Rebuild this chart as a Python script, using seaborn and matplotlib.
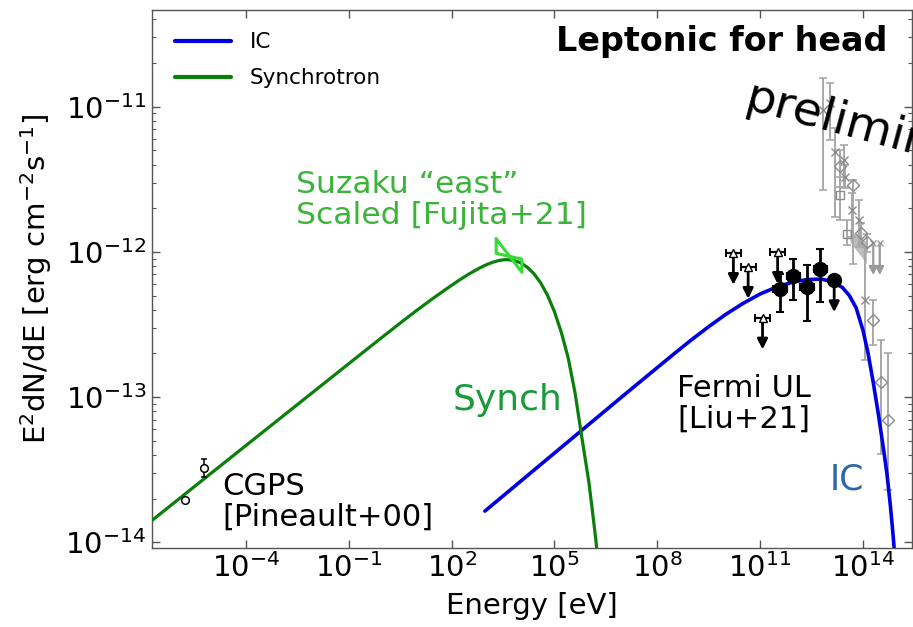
import numpy as np
import pandas as pd
import matplotlib
matplotlib.use("Agg")
import matplotlib.pyplot as plt
import matplotlib.ticker as mticker
import seaborn as sns

# ---------------- data (log10 values) ----------------
sync_logE = [-6.9, -5.0, -3.0, -1.0, 0.0, 0.6, 1.0, 1.4, 1.8, 2.2, 2.5, 2.8, 3.0, 3.2,
             3.4, 3.6, 3.8, 4.0, 4.2, 4.4, 4.6, 4.8, 5.0, 5.2, 5.4, 5.6, 5.8, 6.0, 6.1,
             6.2, 6.3]
sync_logF = [-13.880, -13.522, -13.146, -12.770, -12.583, -12.472, -12.400, -12.330,
             -12.263, -12.198, -12.153, -12.113, -12.090, -12.071, -12.058, -12.053,
             -12.058, -12.074, -12.104, -12.150, -12.214, -12.300, -12.412, -12.554,
             -12.730, -12.970, -13.280, -13.580, -13.770, -13.970, -14.190]

ic_logE = [2.97, 4.0, 5.0, 6.0, 7.0, 8.0, 8.5, 9.0, 9.5, 10.0, 10.5, 11.0, 11.5, 12.0,
           12.4, 12.8, 13.1, 13.4, 13.6, 13.8, 14.0, 14.15, 14.3, 14.45, 14.6, 14.7,
           14.8, 14.87, 14.93, 15.0]
ic_logF = [-13.786, -13.583, -13.386, -13.189, -12.992, -12.797, -12.700, -12.605,
           -12.515, -12.430, -12.355, -12.290, -12.240, -12.205, -12.190, -12.188,
           -12.205, -12.245, -12.300, -12.385, -12.540, -12.700, -12.900, -13.120,
           -13.360, -13.530, -13.750, -13.930, -14.100, -14.300]

cgps_logE = [-5.78, -5.23]
cgps_logF = [-13.71, -13.49]
cgps_lo = [-13.71, -13.55]
cgps_hi = [-13.71, -13.43]

suzaku_logE = [3.30, 4.05, 4.05, 3.30, 3.30]
suzaku_logF = [-11.91, -12.14, -12.05, -12.01, -11.91]

fermi_logE = [11.58, 11.97, 12.37, 12.76]
fermi_logF = [-12.259, -12.168, -12.241, -12.121]
fermi_lo = [-12.414, -12.333, -12.476, -12.345]
fermi_hi = [-12.149, -12.052, -12.092, -11.983]
fermi_lim_logE = [13.16]
fermi_lim_logF = [-12.195]

ul_logE = [10.22, 10.65, 11.07, 11.51]
ul_logF = [-12.007, -12.103, -12.452, -12.0]
ul_arrow = 0.22  # dex length of limit arrows

# grey TeV points
tev_logE = [12.84, 13.05, 13.18, 13.33, 13.44, 13.33, 13.47, 13.70, 13.67, 13.89, 13.52,
            13.93, 14.11, 14.06, 14.30, 14.52, 14.74]
tev_logF = [-11.022, -10.977, -11.31, -11.409, -11.368, -11.609, -11.483, -11.54, -11.712,
            -11.777, -11.874, -11.869, -11.931, -12.328, -12.466, -12.897, -13.161]
tev_lo = [-11.574, -11.23, -11.76, -11.55, -11.552, -11.781, -11.56, -12.08, -11.897,
          -11.966, -11.954, -11.95, -12.0, -12.747, -12.643, -13.39, -13.643]
tev_hi = [-10.804, -10.839, -11.149, -11.30, -11.264, -11.483, -11.40, -11.506, -11.597,
          -11.643, -11.78, -11.80, -11.88, -11.966, -12.333, -12.609, -12.697]
tev_marker = ['x', 'x', 'x', 'D', 'x', 's', 'x', 'D', 'x', 'x', 's', 'D', 'D', 'x', 'D', 'D', 'D']
tev_ul_logE = [14.30, 14.49]
tev_ul_logF = [-11.94, -11.94]
band_logE = [13.62, 14.10]
band_lo = [-11.93, -12.08]
band_hi = [-11.85, -11.93]

xtick_exp = [-4, -1, 2, 5, 8, 11, 14]
ytick_exp = [-14, -13, -12, -11]

# ---------------- figure ----------------
sns.set_style("ticks")
plt.rcParams['font.family'] = ['DejaVu Sans']
plt.rcParams['mathtext.fontset'] = 'dejavusans'
plt.rcParams['text.color'] = 'black'
plt.rcParams['axes.labelcolor'] = 'black'

W, H = 913, 627
fig = plt.figure(figsize=(W / 100, H / 100), dpi=100)
L, R, T, B = 152, 912, 9.5, 548
ax = fig.add_axes([L / W, (H - B) / H, (R - L) / W, (B - T) / H])

def p(v):
    return [10.0 ** x for x in v]

sync_df = pd.DataFrame({'E': p(sync_logE), 'F': p(sync_logF)})
ic_df = pd.DataFrame({'E': p(ic_logE), 'F': p(ic_logF)})

sns.lineplot(data=ic_df, x='E', y='F', ax=ax, color='#0000e0', lw=2.6, sort=False,
             estimator=None, label='IC', zorder=5)
sns.lineplot(data=sync_df, x='E', y='F', ax=ax, color='#0a7f0a', lw=2.3, sort=False,
             estimator=None, label='Synchrotron', zorder=5)

# grey TeV data
grey = '#a8a8a8'
ax.fill_between(p(band_logE), p(band_lo), p(band_hi), color='#bdbdbd', lw=0, zorder=2)
for e, f, lo, hi, m in zip(tev_logE, tev_logF, tev_lo, tev_hi, tev_marker):
    x, y = 10 ** e, 10 ** f
    ax.errorbar([x], [y], yerr=[[y - 10 ** lo], [10 ** hi - y]], fmt=m, color=grey,
                mec='#8a8a8a', mfc='none', ms=6, elinewidth=1.4,
                capsize=3, capthick=1.2, zorder=3)
for e, f in zip(tev_ul_logE, tev_ul_logF):
    ax.annotate('', xy=(10 ** e, 10 ** (f - 0.22)), xytext=(10 ** e, 10 ** f),
                arrowprops=dict(arrowstyle='-|>', color='#9a9a9a', lw=1.6, mutation_scale=12,
                                shrinkA=0, shrinkB=0), zorder=3)
    ax.plot([10 ** e], [10 ** f], marker='x', color='#9a9a9a', ms=5)

# CGPS
cg_x = p(cgps_logE)
cg_y = p(cgps_logF)
ax.errorbar(cg_x, cg_y,
            yerr=[np.array(cg_y) - np.array(p(cgps_lo)), np.array(p(cgps_hi)) - np.array(cg_y)],
            fmt='o', mfc='white', mec='black', color='black', ms=5.5, mew=1.1,
            elinewidth=1.1, capsize=2.5, zorder=6)

# Suzaku bow-tie
ax.plot(p(suzaku_logE), p(suzaku_logF), color='#33dd33', lw=2.2, zorder=7)

# Fermi points
fx = np.array(p(fermi_logE))
fy = np.array(p(fermi_logF))
ax.errorbar(fx, fy, yerr=[fy - np.array(p(fermi_lo)), np.array(p(fermi_hi)) - fy],
            xerr=[fx - np.array(p([v - 0.2 for v in fermi_logE])),
                  np.array(p([v + 0.2 for v in fermi_logE])) - fx],
            fmt='o', color='black', ms=10, elinewidth=2, capsize=3, capthick=1.5, zorder=8)
for e, f in zip(fermi_lim_logE, fermi_lim_logF):
    ax.errorbar([10 ** e], [10 ** f],
                xerr=[[10 ** e - 10 ** (e - 0.2)], [10 ** (e + 0.2) - 10 ** e]],
                fmt='o', color='black', ms=10, elinewidth=2, zorder=8)
    ax.annotate('', xy=(10 ** e, 10 ** (f - ul_arrow)), xytext=(10 ** e, 10 ** f),
                arrowprops=dict(arrowstyle='-|>', color='black', lw=2, mutation_scale=15,
                                shrinkA=0, shrinkB=0), zorder=8)

for e, f in zip(ul_logE, ul_logF):
    ax.errorbar([10 ** e], [10 ** f],
                xerr=[[10 ** e - 10 ** (e - 0.22)], [10 ** (e + 0.22) - 10 ** e]],
                fmt='^', color='black', mfc='white', mec='black', ms=5.5, elinewidth=1.6,
                capsize=3, capthick=1.4, zorder=8)
    ax.annotate('', xy=(10 ** e, 10 ** (f - ul_arrow)), xytext=(10 ** e, 10 ** f),
                arrowprops=dict(arrowstyle='-|>', color='black', lw=2, mutation_scale=15,
                                shrinkA=0, shrinkB=0), zorder=8)

# ---------------- axes ----------------
ax.set_xscale('log')
ax.set_yscale('log')
ax.set_xlim(10 ** -6.74, 10 ** 15.43)
ax.set_ylim(10 ** -14.04, 10 ** -10.33)
ax.xaxis.set_major_locator(mticker.FixedLocator(p(xtick_exp)))
ax.xaxis.set_major_formatter(mticker.LogFormatterMathtext())
ax.xaxis.set_minor_locator(mticker.NullLocator())
ax.yaxis.set_major_locator(mticker.FixedLocator(p(ytick_exp)))
ax.yaxis.set_major_formatter(mticker.LogFormatterMathtext())
ax.yaxis.set_minor_locator(mticker.LogLocator(base=10, subs=np.arange(2, 10), numticks=20))
ax.yaxis.set_minor_formatter(mticker.NullFormatter())
ax.tick_params(which='both', direction='in', top=True, right=True, labelsize=21,
               color='#555555', labelcolor='black')
ax.tick_params(which='major', length=6, width=1)
ax.tick_params(which='minor', length=3, width=0.8)
ax.tick_params(axis='x', pad=4)
ax.tick_params(axis='y', pad=4)
for s in ax.spines.values():
    s.set_color('#555555')
    s.set_linewidth(1.0)

ax.set_xlabel('Energy [eV]', fontsize=21, labelpad=6)
ax.set_ylabel('E$^2$dN/dE [erg cm$^{-2}$s$^{-1}$]', fontsize=21, labelpad=8)

leg = ax.legend(loc='upper left', frameon=False, fontsize=15.5, handlelength=2.6,
                handletextpad=0.9, borderaxespad=0.75, labelspacing=0.75,
                borderpad=0.3)
for line in leg.get_lines():
    line.set_linewidth(3)
for t in leg.get_texts():
    t.set_color('black')

def af(px, py):
    return ((px - L) / (R - L), (B - py) / (B - T))

ax.text(*af(296, 200), 'Suzaku “east”\nScaled [Fujita+21]', transform=ax.transAxes,
        color='#3cb43c', fontsize=22.6, ha='left', va='center', linespacing=1.1)
ax.text(*af(453, 400), 'Synch', transform=ax.transAxes, color='#1a9a3a', fontsize=26,
        ha='left', va='center')
ax.text(*af(677, 404), 'Fermi UL\n[Liu+21]', transform=ax.transAxes, color='black',
        fontsize=22, ha='left', va='center', linespacing=1.1)
ax.text(*af(222, 502), 'CGPS\n[Pineault+00]', transform=ax.transAxes, color='black',
        fontsize=22, ha='left', va='center', linespacing=1.1)
ax.text(*af(830, 480), 'IC', transform=ax.transAxes, color='#2f66a8', fontsize=25,
        ha='left', va='center')
ax.text(*af(887, 42), 'Leptonic for head', transform=ax.transAxes, color='black',
        fontsize=24, fontweight='bold', ha='right', va='center')

# watermark, cut off by the right edge as in the reference
fig.text(747 / W, 1 - 97 / H, 'preliminary', fontsize=34, rotation=-15,
         rotation_mode='anchor', ha='left', va='center', color='black')

fig.savefig('out.png', dpi=100)
